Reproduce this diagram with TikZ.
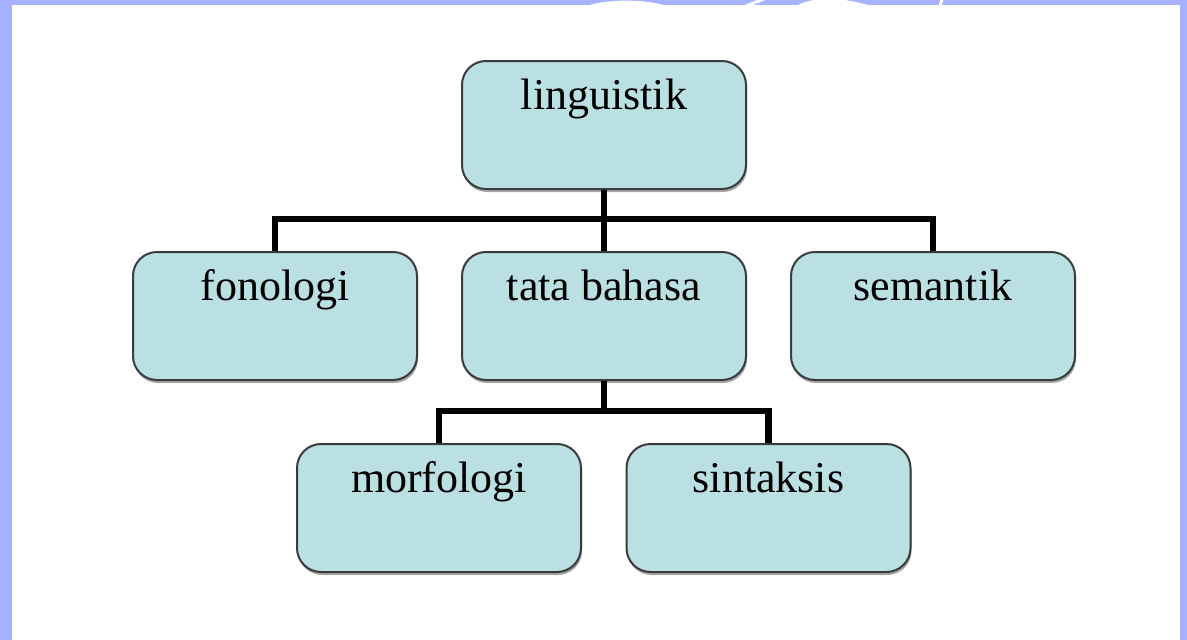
\documentclass[tikz,border=0pt]{standalone}
\usepackage{fontspec}
\setmainfont{Liberation Serif}
\usetikzlibrary{shadows}
\definecolor{frameblue}{RGB}{166,178,254}
\definecolor{boxfill}{RGB}{186,224,227}
\definecolor{boxline}{RGB}{58,60,60}
\tikzset{
  topicbox/.style={draw=boxline, line width=2pt, fill=boxfill, rounded corners=24pt,
    minimum width=284pt, inner xsep=0pt, inner ysep=0pt,
    text height=48pt, text depth=80pt, anchor=north,
    font=\fontsize{44}{50}\selectfont,
    drop shadow={shadow xshift=1pt, shadow yshift=-3pt, opacity=0.35, fill=black}},
  link/.style={line width=6.5pt, black, line join=miter}
}
\begin{document}
\begin{tikzpicture}[x=1pt,y=-1pt]
  % frame
  \fill[frameblue] (0,0) rectangle (1187,640);
  \fill[white] (12,5) rectangle (1180,640);
  \useasboundingbox (0,0) rectangle (1187,640);
  % white marks across top border
  \fill[white] (588,5.5) .. controls (608,-1) and (645,-1) .. (665,5.5) -- cycle;
  \draw[white, line width=3pt] (746,6) -- (764,-1);
  \fill[white] (797,5.5) .. controls (808,0) and (815,-1) .. (835,-1) .. controls (850,0) and (860,3) .. (870,5.5) -- cycle;
  \draw[white, line width=3pt] (940,6) -- (942,-1);
  % boxes
  \node[topicbox] (ling) at (604,60) {linguistik};
  \node[topicbox] (fon)  at (275,251) {fonologi};
  \node[topicbox] (tata) at (604,251) {tata bahasa};
  \node[topicbox] (sem)  at (933,251) {semantik};
  \node[topicbox] (morf) at (439,443) {morfologi};
  \node[topicbox] (sint) at (768.5,443) {sintaksis};
  % bus coordinates
  \coordinate (bus1) at (604,219);
  \coordinate (bus2) at (604,411);
  % connectors
  \draw[link] (ling.south) -- (tata.north);
  \draw[link] (fon.north) |- (bus1) -| (sem.north);
  \draw[link] (tata.south) -- (bus2);
  \draw[link] (morf.north) |- (bus2) -| (sint.north);
\end{tikzpicture}
\end{document}
